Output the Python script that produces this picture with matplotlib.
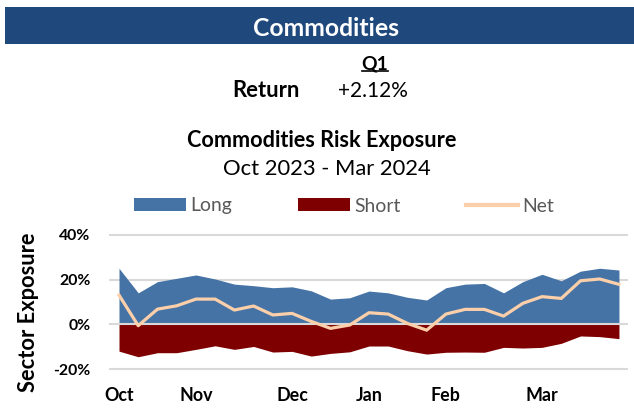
import matplotlib
matplotlib.use("Agg")
import matplotlib.pyplot as plt
from matplotlib.patches import Patch, Rectangle
from matplotlib.lines import Line2D

plt.rcParams['font.family'] = ['Lato', 'DejaVu Sans']

# ---- data (percent) ----
long_vals = [25.1, 14.1, 19.1, 20.6, 22.1, 20.3, 18.0, 17.3, 16.4, 16.8, 15.0, 11.3, 11.9, 14.9,
             14.1, 12.1, 10.9, 16.4, 18.0, 18.3, 14.1, 19.1, 22.4, 19.5, 23.8, 25.1, 24.3]
short_vals = [-12.0, -14.5, -12.7, -12.7, -11.2, -9.6, -11.2, -9.9, -12.4, -12.1, -14.2, -13.0, -12.3, -9.7,
              -9.7, -11.8, -13.3, -12.5, -12.4, -12.5, -10.3, -10.6, -10.3, -8.5, -5.2, -5.5, -6.4]
net_vals = [13.1, -0.6, 6.8, 8.3, 11.3, 11.3, 6.4, 8.2, 4.2, 4.9, 1.3, -1.8, -0.3, 5.2,
            4.6, 0.4, -2.6, 4.6, 6.7, 6.7, 3.7, 9.4, 12.4, 11.6, 19.5, 20.3, 17.9]
month_positions = [0, 4, 9, 13, 17, 22]
month_labels = ["Oct", "Nov", "Dec", "Jan", "Feb", "Mar"]
y_ticks = [-20, 0, 20, 40]
y_tick_labels = ["-20%", "0%", "20%", "40%"]

header_text = "Commodities"
quarter_label = "Q1"
return_label = "Return"
return_value = "+2.12%"
chart_title = "Commodities Risk Exposure"
chart_subtitle = "Oct 2023 - Mar 2024"
y_label = "Sector Exposure"

# ---- colors ----
c_header = "#1F497D"
c_long = "#4573A5"
c_short = "#7F0000"
c_net = "#FBCFAA"
c_grid = "#D9D9D9"
c_legend_text = "#595959"

W, H = 634, 408
fig = plt.figure(figsize=(W / 100, H / 100), dpi=100)
renderer = fig.canvas.get_renderer()


def fx(px):
    return px / W


def fy(py):
    return 1 - py / H


def size_for(s, target_w, weight='normal', base=12.0):
    t = fig.text(0, 0, s, fontsize=base, fontweight=weight)
    w = t.get_window_extent(renderer).width
    t.remove()
    return base * target_w / w


# header bar
fig.patches.append(Rectangle((fx(5.3), fy(44.3)), 1 - fx(5.3), fy(6.7) - fy(44.3),
                             transform=fig.transFigure, facecolor=c_header, edgecolor='none'))
fig.text(fx(325.8), fy(35.7), header_text, color='white',
         fontsize=size_for(header_text, 145, 'bold'), fontweight='bold',
         ha='center', va='baseline')

# Q1 / Return
fig.text(fx(375), fy(69), quarter_label, fontsize=size_for(quarter_label, 26.7, 'bold'),
         fontweight='bold', ha='center', va='baseline')
fig.add_artist(Line2D([fx(361.7), fx(388.3)], [fy(71), fy(71)], transform=fig.transFigure,
                      color='black', lw=1.2))
fig.text(fx(266), fy(97.3), return_label, fontsize=size_for(return_label, 66.7, 'bold'),
         fontweight='bold', ha='center', va='baseline')
fig.text(fx(373.3), fy(97.3), return_value, fontsize=size_for(return_value, 70),
         ha='center', va='baseline')

# chart title
title_fs = size_for("Commodities Risk Exp", 213, 'bold')
fig.text(fx(187), fy(146.7), chart_title, fontsize=title_fs, fontweight='bold',
         ha='left', va='baseline')
fig.text(fx(223), fy(175), chart_subtitle, fontsize=title_fs * 1.02, ha='left', va='baseline')

# axes
x_left, x_right = 109, 628
y_top, y_bot = 230.5, 373.5
ax = fig.add_axes([fx(x_left), fy(y_bot), fx(x_right) - fx(x_left), fy(y_top) - fy(y_bot)])
x = list(range(len(long_vals)))
ax.fill_between(x, 0, long_vals, color=c_long, linewidth=0, zorder=2)
ax.fill_between(x, 0, short_vals, color=c_short, linewidth=0, zorder=2)
for yv in y_ticks:
    ax.axhline(yv, color=c_grid, lw=1.5, zorder=3 if yv == 0 else 1)
ax.plot(x, net_vals, color=c_net, lw=2.3, zorder=4, solid_joinstyle='round')

ax.set_xlim(-0.52, 26.47)
ax.set_ylim(-22, 42)
ax.set_xticks(month_positions)
ax.set_xticklabels(month_labels, fontsize=size_for("Oct", 29.5, 'bold'), fontweight='bold')
ax.set_yticks(y_ticks)
ax.set_yticklabels(y_tick_labels, fontsize=size_for("40%", 31.4, 'bold'), fontweight='bold')
ax.tick_params(axis='both', length=0)
ax.tick_params(axis='x', pad=10)
ax.tick_params(axis='y', pad=13.2)
for s in ax.spines.values():
    s.set_visible(False)

fig.text(fx(29), fy(312.5), y_label, rotation=90, fontsize=size_for(y_label, 159, 'bold'),
         fontweight='bold', ha='center', va='center')

# legend
leg_fs = size_for("Short", 46)
em = leg_fs * 100 / 72.0
handles = [Patch(facecolor=c_long, edgecolor='none', label='Long'),
           Patch(facecolor=c_short, edgecolor='none', label='Short'),
           Line2D([0], [0], color=c_net, lw=3, label='Net')]
leg = fig.legend(handles=handles, loc='center left', bbox_to_anchor=(fx(134), fy(206)), ncol=3,
                 frameon=False, fontsize=leg_fs, handlelength=52 / em, handletextpad=4 / em,
                 columnspacing=66 / em, handleheight=12 / em, borderpad=0, borderaxespad=0)
for t in leg.get_texts():
    t.set_color(c_legend_text)

fig.savefig("out.png", dpi=100)
